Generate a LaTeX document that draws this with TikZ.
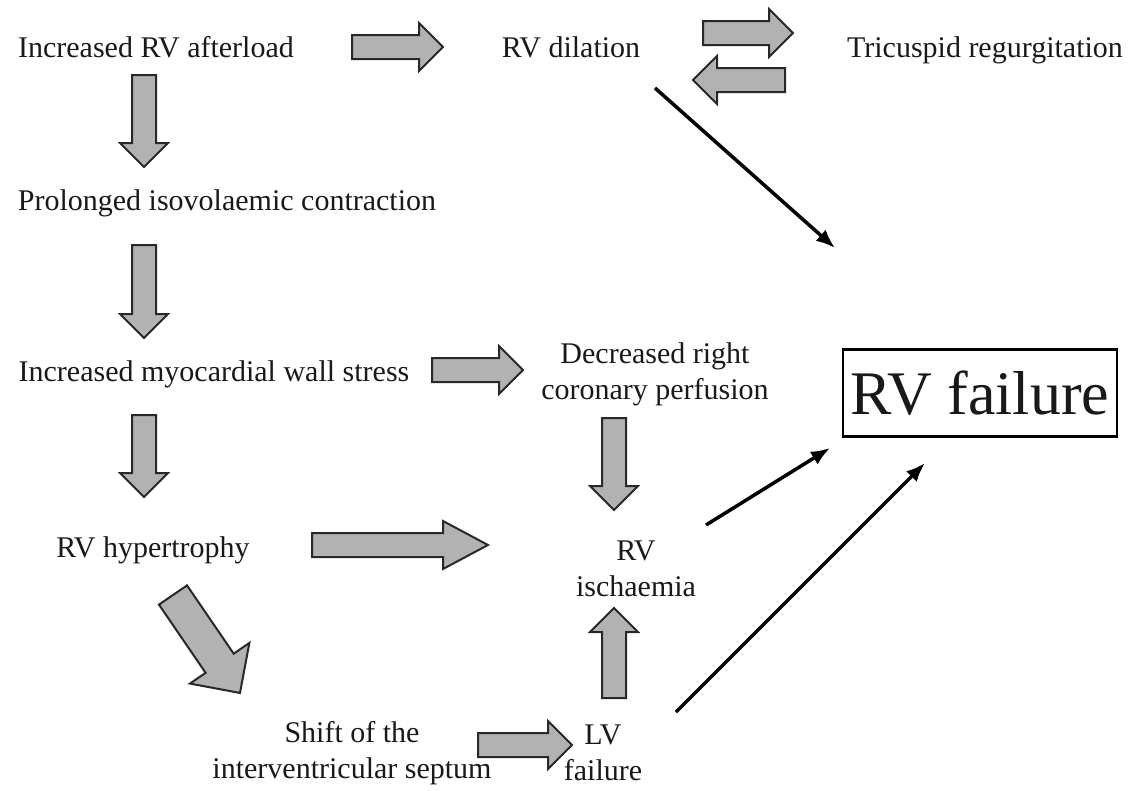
\documentclass[tikz,border=0pt]{standalone}
\usepackage{fontspec}
\setmainfont{Liberation Serif}
\usetikzlibrary{calc,arrows.meta}

\definecolor{fatgray}{RGB}{178,178,178}
\definecolor{fatline}{RGB}{40,40,40}
\definecolor{txt}{RGB}{25,25,25}

\tikzset{
  lbl/.style={text=txt, font=\fontsize{30}{36}\selectfont, align=center, inner sep=0pt},
  fat/.style={draw=fatline, fill=fatgray, line width=2pt, line join=miter},
  thin/.style={line width=3.5pt, -{Latex[length=19pt,width=15pt]}}
}

% fat block arrow: [head length]{from}{to}
\newcommand{\fatarrow}[3][24]{%
  \draw[fat] let \p1=($(#3)-(#2)$), \n1={atan2(\y1,\x1)}, \n2={veclen(\x1,\y1)} in
    {[shift={(#2)}, rotate=\n1]
    (0pt,-12pt) -- ({\n2-#1pt},-12pt) -- ({\n2-#1pt},-24pt) -- (\n2,0pt)
    -- ({\n2-#1pt},24pt) -- ({\n2-#1pt},12pt) -- (0pt,12pt) -- cycle};}

\begin{document}
\begin{tikzpicture}[x=1pt,y=-1pt]
\useasboundingbox (0,0) rectangle (1132,790);

% texts
\node[lbl] (afterload) at (156,47) {Increased RV afterload};
\node[lbl] (dil) at (571,47) {RV dilation};
\node[lbl] (tric) at (985,50) {Tricuspid regurgitation};
\node[lbl] (prolong) at (227,203) {Prolonged isovolaemic contraction};
\node[lbl] (stress) at (214,374) {Increased myocardial wall stress};
\node[lbl] (decr) at (655,374) {Decreased right\\coronary perfusion};
\node[lbl] (hyper) at (153,550) {RV hypertrophy};
\node[lbl] (isch) at (636,569) {RV\\ischaemia};
\node[lbl] (shift) at (352,753) {Shift of the\\interventricular septum};
\node[lbl] (lvf) at (603,753) {LV\\failure};
\node[draw, line width=2.5pt, minimum width=274pt, minimum height=87pt, inner sep=0pt,
  font=\fontsize{62}{62}\selectfont, text=txt] (fail) at (980,393) {RV failure};

% block arrows
\fatarrow{352,47}{443,47}
\fatarrow{703,33}{793,33}
\fatarrow{785,80}{693,80}
\fatarrow{144,75}{144,167}
\fatarrow{144,245}{144,338}
\fatarrow{144,415}{144,497}
\fatarrow{432,370}{523,370}
\fatarrow{614,418}{614,510}
\fatarrow[45]{312,545}{488,545}
\fatarrow{478,745}{572,745}
\fatarrow{614,698}{614,608}
\draw[fat] let \p1=($(240,693)-(173,595)$), \n1={atan2(\y1,\x1)}, \n2={veclen(\x1,\y1)} in
  {[shift={(173,595)}, rotate=\n1]
  (0pt,-17pt) -- ({\n2-36pt},-17pt) -- ({\n2-36pt},-36pt) -- (\n2,0pt)
  -- ({\n2-36pt},36pt) -- ({\n2-36pt},17pt) -- (0pt,17pt) -- cycle};

% thin arrows into the box
\coordinate (d1) at (655,88);
\coordinate (e1) at (835,248);
\coordinate (d2) at (706,525);
\coordinate (e2) at (830,448);
\coordinate (d3) at (676,712);
\coordinate (e3) at (925,463);
\draw[thin] (d1) -- (e1);
\draw[thin] (d2) -- (e2);
\draw[thin] (d3) -- (e3);
\end{tikzpicture}
\end{document}
